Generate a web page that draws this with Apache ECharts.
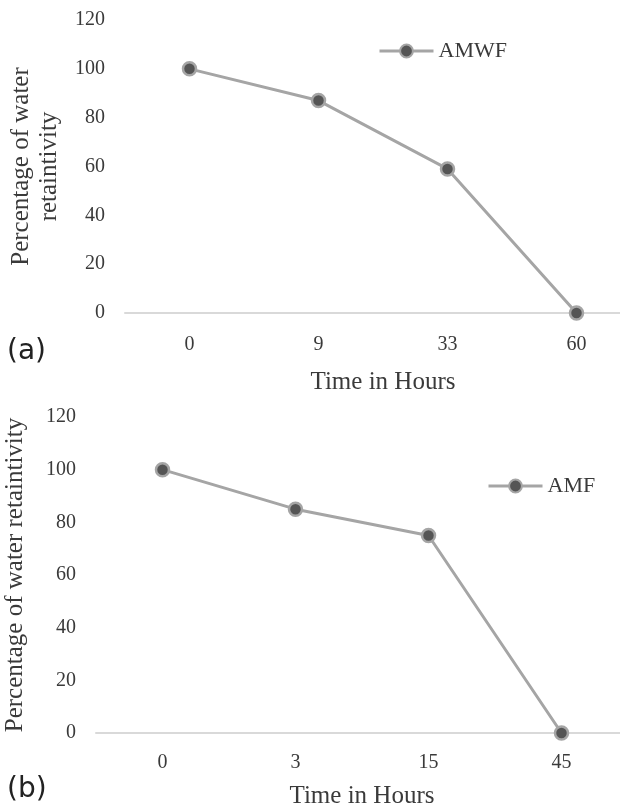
<!DOCTYPE html>
<html>
<head>
<meta charset="utf-8">
<script src="https://cdn.jsdelivr.net/npm/echarts@6/dist/echarts.min.js"></script>
<style>
  html, body { margin: 0; padding: 0; background: #fff; }
  #chart { width: 620px; height: 812px; }
</style>
</head>
<body>
<div id="chart"></div>
<script>
    // data
    var hoursA = ['0', '9', '33', '60'];
    var amwf = [100, 87, 59, 0];
    var hoursB = ['0', '3', '15', '45'];
    var amf = [100, 85, 75, 0];
    var yMin = 0, yMax = 120, yStep = 20;

    var serif = 'Liberation Serif';
    var txt = '#3a3a3a';
    var lineGray = '#a5a5a5';
    var dotFill = '#555555';
    var axisGray = '#d9d9d9';

    function xAx(idx, cats, gap, margin) {
        return {
            type: 'category',
            gridIndex: idx,
            data: cats,
            boundaryGap: true,
            axisTick: { show: false },
            axisLine: { lineStyle: { color: axisGray, width: 2 } },
            axisLabel: { color: txt, fontFamily: serif, fontSize: 20, margin: margin },
            name: 'Time in Hours',
            nameLocation: 'middle',
            nameGap: gap,
            nameTextStyle: { color: txt, fontFamily: serif, fontSize: 25 }
        };
    }
    function yAx(idx, name, gap) {
        return {
            type: 'value',
            gridIndex: idx,
            min: yMin, max: yMax, interval: yStep,
            splitLine: { show: false },
            axisLine: { show: false },
            axisTick: { show: false },
            axisLabel: { color: txt, fontFamily: serif, fontSize: 20, margin: 20 },
            name: name,
            nameLocation: 'middle',
            nameGap: gap,
            nameTextStyle: { color: txt, fontFamily: serif, fontSize: 25, lineHeight: 28 }
        };
    }
    function ser(idx, name, vals) {
        return {
            name: name,
            type: 'line',
            xAxisIndex: idx,
            yAxisIndex: idx,
            data: vals,
            symbol: 'circle',
            symbolSize: 13,
            lineStyle: { color: lineGray, width: 3 },
            itemStyle: { color: dotFill, borderColor: lineGray, borderWidth: 2.5 },
            animation: false
        };
    }
    function leg(name, x, y) {
        return {
            data: [name], left: x, top: y, padding: 0,
            itemWidth: 54, itemHeight: 16, itemGap: 5,
            lineStyle: { width: 3 },
            textStyle: { color: txt, fontFamily: serif, fontSize: 22 }
        };
    }

    var myChart = echarts.init(document.getElementById('chart'));
    var option = {
        backgroundColor: '#fff',
        animation: false,
        grid: [
            { left: 125, top: 20, width: 516, height: 293, outerBoundsMode: 'none' },
            { left: 96, top: 417, width: 532, height: 316, outerBoundsMode: 'none' }
        ],
        legend: [leg('AMWF', 378, 40), leg('AMF', 487, 475)],
        xAxis: [xAx(0, hoursA, 57, 22), xAx(1, hoursB, 51, 20)],
        yAxis: [
            yAx(0, 'Percentage of water\nretaintivity', 62),
            yAx(1, 'Percentage of water retaintivity', 67)
        ],
        series: [ser(0, 'AMWF', amwf), ser(1, 'AMF', amf)],
        graphic: [
            { type: 'text', left: 7, top: 338,
              style: { text: '(a)', fill: '#222', font: '28px "DejaVu Sans"' } },
            { type: 'text', left: 7, top: 776,
              style: { text: '(b)', fill: '#222', font: '28px "DejaVu Sans"' } }
        ]
    };
    myChart.setOption(option);
</script>
</body>
</html>
